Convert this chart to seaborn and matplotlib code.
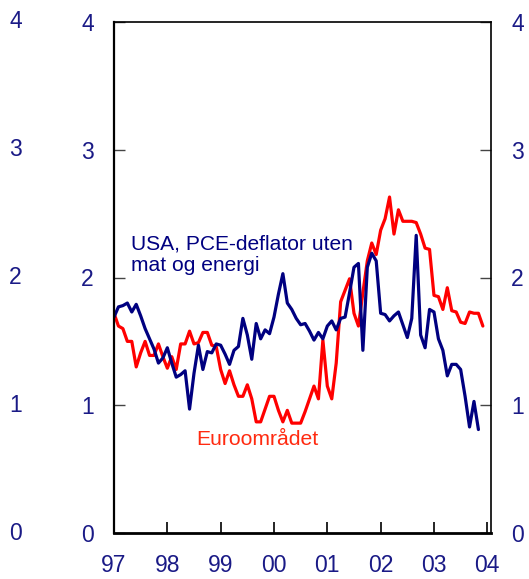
import numpy as np
import pandas as pd
import matplotlib
matplotlib.use("Agg")
import matplotlib.pyplot as plt
import matplotlib.transforms as mtransforms
import seaborn as sns

# Monthly core inflation, Jan 1997 onwards (percent, 12-month change)
usa_pce_core = [1.69, 1.77, 1.78, 1.80, 1.73, 1.79, 1.70, 1.60, 1.52, 1.44, 1.33, 1.37,
                1.45, 1.33, 1.22, 1.24, 1.27, 0.97, 1.25, 1.47, 1.28, 1.42, 1.41, 1.48,
                1.47, 1.40, 1.32, 1.43, 1.46, 1.68, 1.55, 1.36, 1.64, 1.52, 1.59, 1.56,
                1.69, 1.87, 2.03, 1.80, 1.75, 1.68, 1.63, 1.64, 1.58, 1.51, 1.57, 1.52,
                1.62, 1.66, 1.59, 1.68, 1.69, 1.88, 2.08, 2.11, 1.43, 2.08, 2.19, 2.13,
                1.72, 1.71, 1.66, 1.70, 1.73, 1.63, 1.53, 1.68, 2.33, 1.55, 1.45, 1.75,
                1.73, 1.52, 1.43, 1.23, 1.32, 1.32, 1.28, 1.07, 0.83, 1.03, 0.81]
euro_area = [1.72, 1.62, 1.60, 1.50, 1.50, 1.30, 1.41, 1.50, 1.39, 1.39, 1.48, 1.38,
             1.29, 1.38, 1.28, 1.48, 1.48, 1.58, 1.48, 1.49, 1.57, 1.57, 1.47, 1.46,
             1.28, 1.17, 1.27, 1.16, 1.07, 1.07, 1.16, 1.05, 0.87, 0.87, 0.97, 1.07,
             1.07, 0.96, 0.87, 0.96, 0.86, 0.86, 0.86, 0.95, 1.05, 1.15, 1.05, 1.51,
             1.15, 1.05, 1.33, 1.81, 1.90, 1.99, 1.72, 1.62, 1.88, 2.13, 2.27, 2.18,
             2.37, 2.46, 2.63, 2.34, 2.53, 2.44, 2.44, 2.44, 2.43, 2.34, 2.23, 2.22,
             1.86, 1.85, 1.75, 1.92, 1.74, 1.73, 1.65, 1.64, 1.73, 1.72, 1.72, 1.62]
year_ticks = [1997, 1998, 1999, 2000, 2001, 2002, 2003, 2004]
year_labels = ["97", "98", "99", "00", "01", "02", "03", "04"]
y_ticks = [0, 1, 2, 3, 4]

start_year = 1997
df_usa = pd.DataFrame({"t": [start_year + i / 12 for i in range(len(usa_pce_core))],
                       "v": usa_pce_core})
df_euro = pd.DataFrame({"t": [start_year + i / 12 for i in range(len(euro_area))],
                        "v": euro_area})

sns.set_style("ticks")
plt.rcParams["font.family"] = ["Liberation Sans", "DejaVu Sans"]

NAVY = "#000080"
RED = "#ff0000"
LABEL = "#1a1a86"

fig = plt.figure(figsize=(5.29, 5.79), dpi=100)
ax = fig.add_axes([114 / 529, 1 - 533 / 579, (491 - 114) / 529, (533 - 22) / 579])

sns.lineplot(data=df_euro, x="t", y="v", ax=ax, color=RED, linewidth=2.3, sort=False)
sns.lineplot(data=df_usa, x="t", y="v", ax=ax, color=NAVY, linewidth=2.3, sort=False)

ax.set_xlim(1997, 1997 + (491 - 114) / 53.33)
ax.set_ylim(0, 4)
ax.set_xlabel("")
ax.set_ylabel("")

ax.set_xticks(year_ticks)
ax.set_xticklabels(year_labels)
ax.set_yticks(y_ticks)
ax.set_yticklabels([str(v) for v in y_ticks])

ax.tick_params(axis="x", direction="in", length=8, width=1.2, color="black",
               pad=15, labelsize=16.5, labelcolor=LABEL)
ax.tick_params(axis="y", direction="in", length=8, width=1.0, color="#444444",
               pad=14.5, labelsize=16.5, labelcolor=LABEL, right=True, labelright=True)
ax.tick_params(axis="y", which="both", labelleft=True)

for side, lw in [("left", 1.6), ("bottom", 2.0), ("top", 1.2), ("right", 1.2)]:
    ax.spines[side].set_visible(True)
    ax.spines[side].set_linewidth(lw)
    ax.spines[side].set_color("black")

# outer left axis labels
trans = mtransforms.blended_transform_factory(fig.transFigure, ax.transData)
for v in y_ticks:
    ax.text(15.5 / 529, v, str(v), transform=trans, ha="center", va="center",
            fontsize=16.5, color=LABEL, clip_on=False)

ax.text(1997.32, 2.18, "USA, PCE-deflator uten\nmat og energi", color=NAVY,
        fontsize=15.1, ha="left", va="center", linespacing=1.2)
ax.text(1999.69, 0.73, "Euroområdet", color="#ff2a10", fontsize=15.2,
        ha="center", va="center")

fig.savefig("out.png", dpi=100)
